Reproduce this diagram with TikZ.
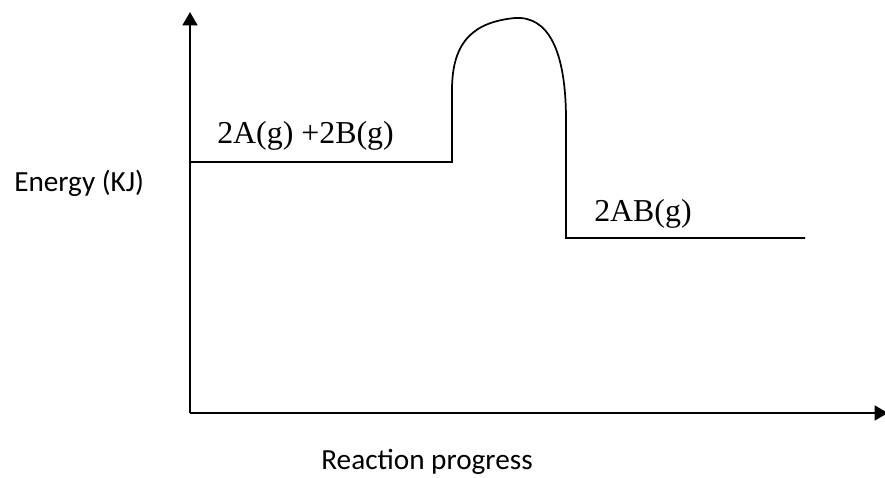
\documentclass[tikz,border=0pt]{standalone}
\usepackage{fontspec}
\setmainfont{Liberation Serif}
\newfontfamily\labelfont{Carlito}
\usetikzlibrary{arrows.meta,positioning}
\definecolor{AxisBlack}{RGB}{0,0,0}

\begin{document}
\begin{tikzpicture}[x=0.02646cm,y=-0.02646cm,>={Triangle[length=10pt,width=11pt]},
    level/.style={line width=1.3pt,AxisBlack},
    species/.style={font=\fontsize{24}{28}\selectfont,inner sep=0pt,anchor=west},
    axislabel/.style={font=\labelfont\fontsize{22}{26}\selectfont,inner sep=0pt}]
      \useasboundingbox (0,0) rectangle (885,478);
      % axes
      \coordinate (origin) at (190,413);
      \coordinate (ytop) at (190,12);
      \coordinate (xend) at (888,413);
      \draw[->,line width=1.8pt,AxisBlack] (origin)--(ytop);
      \draw[->,line width=1.8pt,AxisBlack] (origin)--(xend);
      % energy profile
      \coordinate (r0) at (190,162);
      \coordinate (r1) at (452,162);
      \coordinate (peak) at (515,18);
      \coordinate (p0) at (566,238);
      \coordinate (p1) at (805,238);
      \draw[level] (r0)--(r1)--(452,90)
        .. controls (452,40) and (475,22) .. (peak)
        .. controls (548,16) and (566,50) .. (566,120)--(p0)--(p1);
      \node[species] (react) at (217,136) {2A(g) +2B(g)};
      \node[species] (prod) at (594,214) {2AB(g)};
      \node[axislabel,anchor=west] (ylab) at (14,183) {Energy (KJ)};
      \node[axislabel] (xlab) at (427,462) {Reaction progress};
    \end{tikzpicture}
\end{document}
